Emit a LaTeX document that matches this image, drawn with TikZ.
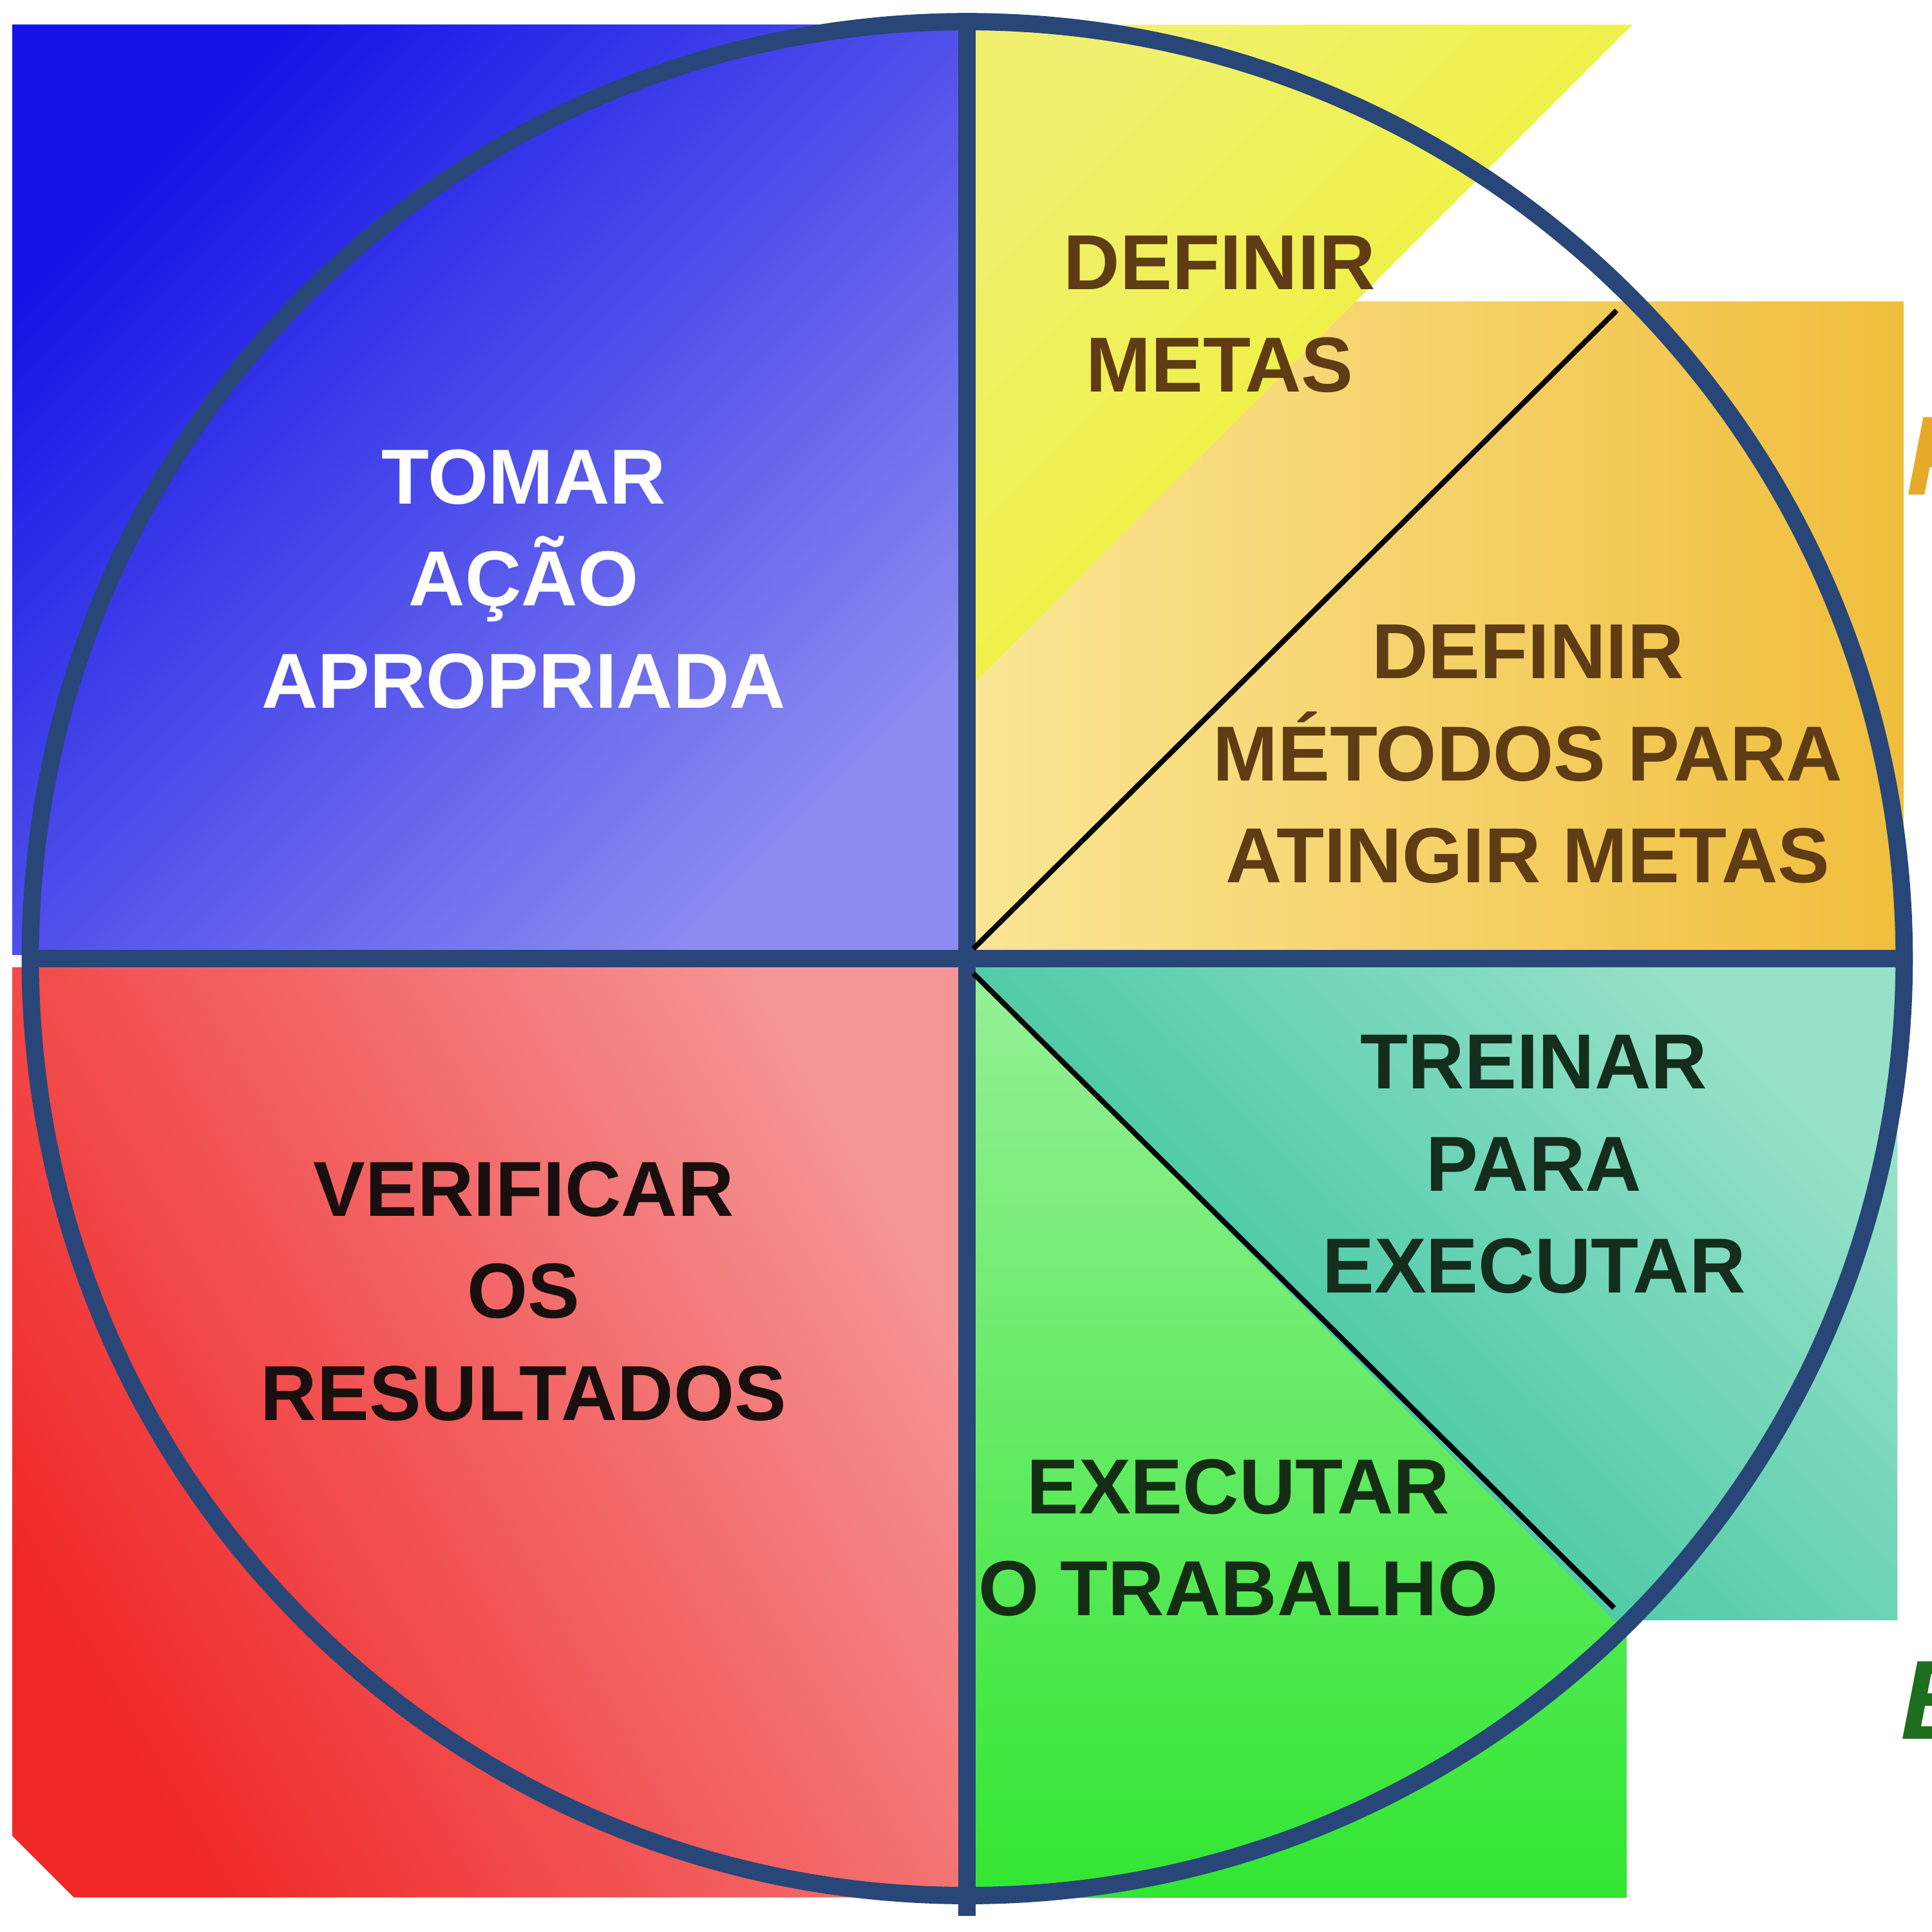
\documentclass[tikz,border=0pt]{standalone}
\usepackage{fontspec}
\setmainfont{Liberation Sans}
\begin{document}
\begin{tikzpicture}[x=0.01cm,y=-0.01cm,
  lbl/.style={font=\fontsize{18}{23.6}\selectfont\bfseries,align=center},
  rim/.style={draw={rgb,255:red,40;green,70;blue,120},line width=4pt}]
\definecolor{navy}{RGB}{40,70,120}
\useasboundingbox (0,0) rectangle (1568,1568);
\clip (0,0) rectangle (1568,1568);
% blue
\shade[left color={rgb,255:red,20;green,20;blue,230},right color={rgb,255:red,140;green,140;blue,240},shading angle=45]
  (10,20) rectangle (785,775);
% red
\shade[left color={rgb,255:red,240;green,40;blue,40},right color={rgb,255:red,245;green,150;blue,150},shading angle=120]
  (10,785) -- (785,785) -- (785,1540) -- (60,1540) -- (10,1490) -- cycle;
% orange
\shade[left color={rgb,255:red,250;green,230;blue,150},right color={rgb,255:red,240;green,190;blue,60}]
  (785,245) rectangle (1545,775);
% yellow
\shade[left color={rgb,255:red,240;green,240;blue,110},right color={rgb,255:red,240;green,240;blue,40},shading angle=45]
  (785,20) -- (1325,20) -- (785,560) -- cycle;
% green
\shade[top color={rgb,255:red,150;green,240;blue,150},bottom color={rgb,255:red,50;green,230;blue,50}]
  (785,785) rectangle (1320,1540);
% teal
\shade[left color={rgb,255:red,40;green,190;blue,150},right color={rgb,255:red,150;green,225;blue,200},shading angle=135]
  (785,785) -- (1540,785) -- (1540,1315) -- (1310,1315) -- cycle;
% circle and lines
\coordinate (c) at (785,778);
\draw[rim] (c) circle[radius=7.6cm];
\draw[rim] (785,15) -- (785,1555);
\draw[rim] (20,778) -- (1545,778);
\draw[line width=1.2pt] (790,770) -- (1312,252);
\draw[line width=1.2pt] (790,790) -- (1310,1305);
% texts
\node[lbl,text=white] (t1) at (425,470) {TOMAR\\AÇÃO\\APROPRIADA};
\node[lbl,text={rgb,255:red,95;green,60;blue,20}] (t2) at (990,255) {DEFINIR\\METAS};
\node[lbl,text={rgb,255:red,95;green,60;blue,20}] (t3) at (1240,612) {DEFINIR\\MÉTODOS PARA\\ATINGIR METAS};
\node[lbl,text={rgb,255:red,20;green,45;blue,30}] (t4) at (1245,945) {TREINAR\\PARA\\EXECUTAR};
\node[lbl,text={rgb,255:red,25;green,15;blue,15}] (t5) at (425,1048) {VERIFICAR\\OS\\RESULTADOS};
\node[lbl,text={rgb,255:red,20;green,45;blue,20}] (t6) at (1005,1248) {EXECUTAR\\O TRABALHO};
\node[lbl,anchor=west,text={rgb,255:red,230;green,170;blue,40},font=\fontsize{26}{30}\selectfont\bfseries\itshape] (p) at (1535,370) {P};
\node[lbl,anchor=west,text={rgb,255:red,30;green,110;blue,30},font=\fontsize{26}{30}\selectfont\bfseries\itshape] (e) at (1530,1380) {E};
\end{tikzpicture}
\end{document}
